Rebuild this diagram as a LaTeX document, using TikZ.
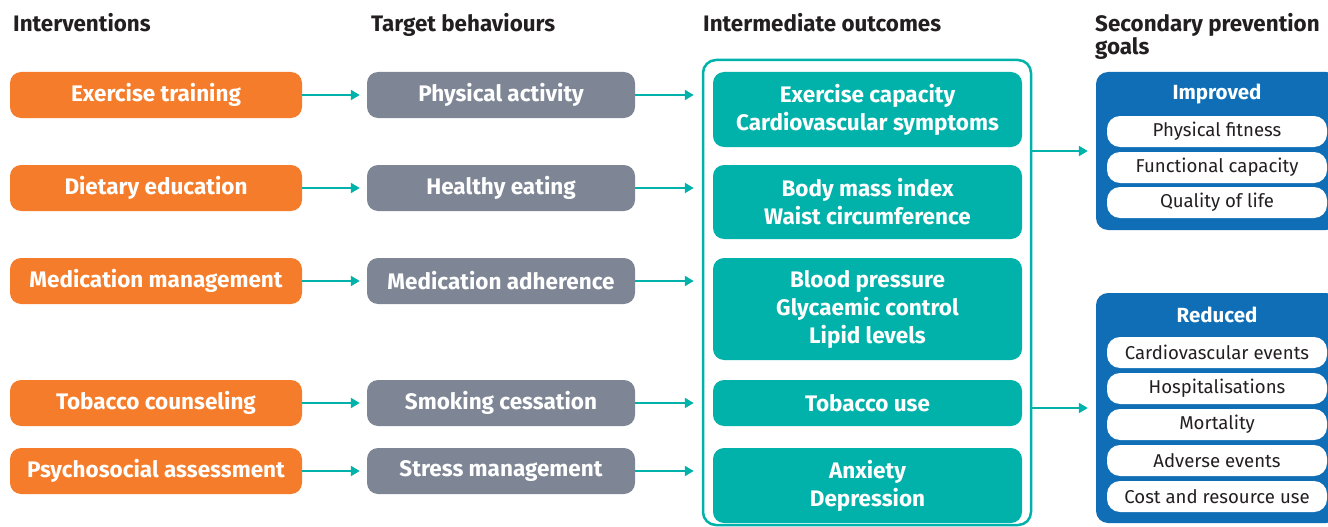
\documentclass[tikz,border=0pt]{standalone}
\usepackage{fontspec}
\setmainfont{Fira Sans}
\usetikzlibrary{arrows.meta}
\definecolor{orng}{HTML}{F47C2A}
\definecolor{slate}{HTML}{7E8695}
\definecolor{teal}{HTML}{00B2A9}
\definecolor{navy}{HTML}{0F6EB6}
\definecolor{ink}{HTML}{231F20}
\begin{document}
\begin{tikzpicture}[x=1pt,y=-1pt,
  head/.style={anchor=base west, text=ink, font=\bfseries\fontsize{22.4}{23}\selectfont, inner sep=0pt, align=left},
  interv/.style={fill=orng, rounded corners=11pt, text=white, font=\bfseries\fontsize{22.5}{28}\selectfont, minimum width=292pt, minimum height=46pt, inner sep=0pt},
  behav/.style={interv, fill=slate, minimum width=268pt},
  outc/.style={interv, fill=teal, minimum width=309pt, align=center},
  goal/.style={fill=navy, rounded corners=12pt, minimum width=242pt, inner sep=0pt},
  goalhead/.style={text=white, font=\bfseries\fontsize{20.5}{22}\selectfont, inner sep=0pt},
  pill/.style={fill=white, rounded corners=13pt, text=ink, font=\fontsize{18.6}{21}\selectfont, minimum width=220pt, minimum height=31pt, inner sep=0pt},
  link/.style={teal, line width=2pt, -{Triangle[length=9pt,width=10pt]}}]
\useasboundingbox (0,0) rectangle (1328,527);
\clip (0,0) rectangle (1328,527);

% column headings
\node[head] (h1) at (13,32) {Interventions};
\node[head] (h2) at (371,32) {Target behaviours};
\node[head] (h3) at (703,32) {Intermediate outcomes};
\node[head] (h4) at (1095,55) {Secondary prevention\\goals};

% interventions
\node[interv] (i1) at (156,95) {Exercise training};
\node[interv] (i2) at (156,188) {Dietary education};
\node[interv] (i3) at (156,281) {Medication management};
\node[interv] (i4) at (156,403) {Tobacco counseling};
\node[interv] (i5) at (156,471) {Psychosocial assessment};

% target behaviours
\node[behav] (b1) at (501,95) {Physical activity};
\node[behav] (b2) at (501,188) {Healthy eating};
\node[behav] (b3) at (501,281) {Medication adherence};
\node[behav] (b4) at (501,403) {Smoking cessation};
\node[behav] (b5) at (501,471) {Stress management};

% intermediate outcomes
\node[draw=teal, line width=2.5pt, rounded corners=13pt, minimum width=328pt, minimum height=465pt, inner sep=0pt] (box) at (867,292.5) {};
\node[outc, minimum height=75pt] (o1) at (867.5,109.5) {Exercise capacity\\Cardiovascular symptoms};
\node[outc, minimum height=74pt] (o2) at (867.5,202) {Body mass index\\Waist circumference};
\node[outc, minimum height=102pt] (o3) at (867.5,309) {Blood pressure\\Glycaemic control\\Lipid levels};
\node[outc] (o4) at (867.5,403) {Tobacco use};
\node[outc, minimum height=75pt] (o5) at (867.5,485.5) {Anxiety\\Depression};

% secondary prevention goals
\node[goal, minimum height=158pt] (imp) at (1217,151) {};
\node[goalhead] (imph) at (1217,94) {Improved};
\node[pill] (p1) at (1217,131.5) {Physical fitness};
\node[pill] (p2) at (1217,167.5) {Functional capacity};
\node[pill] (p3) at (1217,202.5) {Quality of life};

\node[goal, minimum height=230pt] (red) at (1217,408) {};
\node[goalhead] (redh) at (1217,315) {Reduced};
\node[pill] (q1) at (1217,352.5) {Cardiovascular events};
\node[pill] (q2) at (1217,388.5) {Hospitalisations};
\node[pill] (q3) at (1217,424.5) {Mortality};
\node[pill] (q4) at (1217,460.5) {Adverse events};
\node[pill] (q5) at (1217,496.5) {Cost and resource use};

% connectors
\draw[link, shorten >=7pt] (i1.east) -- (b1.west);
\draw[link, shorten >=7pt] (i2.east) -- (b2.west);
\draw[link, shorten >=7pt] (i3.east) -- (b3.west);
\draw[link, shorten >=7pt] (i4.east) -- (b4.west);
\draw[link, shorten >=7pt] (i5.east) -- (b5.west);
\draw[link, shorten >=8pt] (b1.east) -- (b1.east -| box.west);
\draw[link, shorten >=8pt] (b2.east) -- (b2.east -| box.west);
\draw[link, shorten >=8pt] (b3.east) -- (b3.east -| box.west);
\draw[link, shorten >=8pt] (b4.east) -- (b4.east -| box.west);
\draw[link, shorten >=8pt] (b5.east) -- (b5.east -| box.west);
\draw[link, shorten >=8pt] (imp.west -| box.east) -- (imp.west);
\draw[link, shorten >=8pt] (red.west -| box.east) -- (red.west);
\end{tikzpicture}
\end{document}
